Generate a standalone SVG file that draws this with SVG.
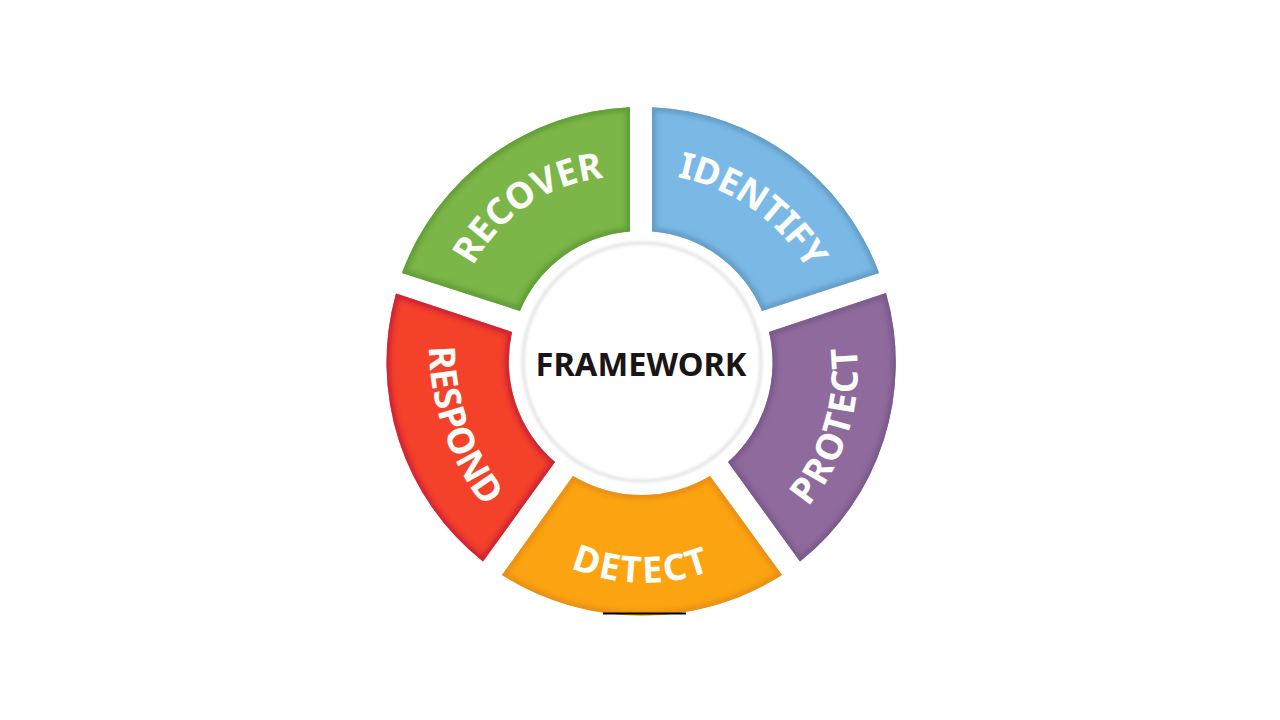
<svg xmlns="http://www.w3.org/2000/svg" width="1280" height="720" viewBox="0 0 1280 720">
<style>
.lbl{font-family:"Noto Sans","Open Sans","Liberation Sans",sans-serif;font-weight:700;font-size:36.5px;fill:#fbfdf8;text-anchor:middle}
.edge{fill:none;stroke-width:8;filter:url(#soft)}
</style>
<defs>
<filter id="soft" x="-10%" y="-10%" width="120%" height="120%"><feGaussianBlur stdDeviation="2.8"/></filter>
<filter id="ringblur" x="-10%" y="-10%" width="120%" height="120%"><feGaussianBlur stdDeviation="1.8"/></filter>
<path id="pRecover" d="M402 273A254 254 0 0 1 630 107.2V231.5A130 130 0 0 0 520 311Z"/>
<path id="pIdentify" d="M652 107.2A254 254 0 0 1 879 273L762 311A130 130 0 0 0 652 231.5Z"/>
<path id="pProtect" d="M886 293A254 254 0 0 1 800 561.5L728 462A133 133 0 0 0 769 332Z"/>
<path id="pDetect" d="M782 575A262 262 0 0 1 502 575L573 476A133 133 0 0 0 710 476Z"/>
<path id="pRespond" d="M483 561.5A254 254 0 0 1 396 293.5L512 332A133 133 0 0 0 555 462Z"/>
<clipPath id="cRecover"><use href="#pRecover"/></clipPath>
<clipPath id="cIdentify"><use href="#pIdentify"/></clipPath>
<clipPath id="cProtect"><use href="#pProtect"/></clipPath>
<clipPath id="cDetect"><use href="#pDetect"/></clipPath>
<clipPath id="cRespond"><use href="#pRespond"/></clipPath>
<path id="tRecover" d="M454.4 355.9A167 167 0 0 1 693.9 193.8"/>
<path id="tIdentify" d="M566 187.5A195 195 0 0 1 833.9 378"/>
<path id="tProtect" d="M693.8 577.3A213 213 0 0 0 799.8 223.9"/>
<path id="tDetect" d="M479 485.5A189 189 0 0 0 806.3 491.2"/>
<path id="tRespond" d="M494.7 168.2A268 268 0 0 0 645.9 607.1"/>
</defs>
<rect width="1280" height="720" fill="#ffffff"/>
<g id="node-recover">
<use href="#pRecover" fill="#7cb548"/>
<g clip-path="url(#cRecover)"><use href="#pRecover" class="edge" stroke="#5f9d35"/></g>
<text class="lbl"><textPath href="#tRecover" startOffset="50%">RECOVER</textPath></text>
</g>
<g id="node-identify">
<use href="#pIdentify" fill="#7ab8e6"/>
<g clip-path="url(#cIdentify)"><use href="#pIdentify" class="edge" stroke="#639cc4"/></g>
<text class="lbl" letter-spacing="-0.6"><textPath href="#tIdentify" startOffset="50%">IDENTIFY</textPath></text>
</g>
<g id="node-protect">
<use href="#pProtect" fill="#8f6a9d"/>
<g clip-path="url(#cProtect)"><use href="#pProtect" class="edge" stroke="#79598a"/></g>
<text class="lbl" letter-spacing="1.8"><textPath href="#tProtect" startOffset="50%">PROTECT</textPath></text>
</g>
<g id="node-detect">
<use href="#pDetect" fill="#fca311"/>
<g clip-path="url(#cDetect)"><use href="#pDetect" class="edge" stroke="#e88e12"/></g>
<text class="lbl" letter-spacing="2"><textPath href="#tDetect" startOffset="50%">DETECT</textPath></text>
</g>
<g id="node-respond">
<use href="#pRespond" fill="#f4412a"/>
<g clip-path="url(#cRespond)"><use href="#pRespond" class="edge" stroke="#cc2236"/></g>
<text class="lbl"><textPath href="#tRespond" startOffset="50%">RESPOND</textPath></text>
</g>
<g id="node-framework">
<circle cx="642" cy="362" r="119" fill="#ffffff" stroke="#e2e2e2" stroke-width="3" filter="url(#ringblur)"/>
<text x="641" y="376" text-anchor="middle" font-family="'Noto Sans','Open Sans','Liberation Sans',sans-serif" font-weight="700" font-size="33" fill="#1b1517" textLength="211" lengthAdjust="spacingAndGlyphs">FRAMEWORK</text>
</g>
<rect x="603" y="612.5" width="83" height="2" fill="#000000"/>
</svg>
